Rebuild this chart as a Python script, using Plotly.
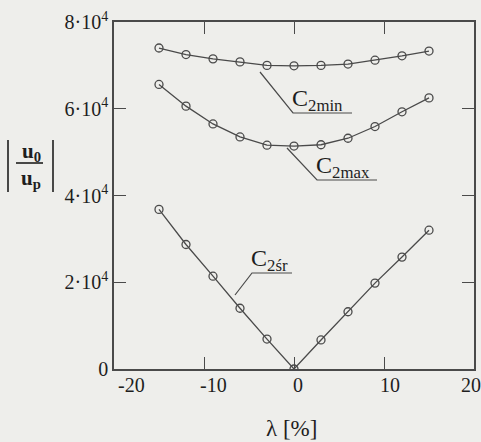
import plotly.graph_objects as go

# Slip λ [%] at which the ratio was evaluated
lam = [-15, -12, -9, -6, -3, 0, 3, 6, 9, 12, 15]

# |u0/up| for the three capacitor settings
c2_min = [74000, 72500, 71500, 70800, 70000, 69900, 70000, 70300, 71200, 72200, 73300]
c2_max = [65600, 60600, 56500, 53500, 51600, 51400, 51700, 53200, 55900, 59300, 62500]
c2_sr = [36800, 28700, 21400, 14000, 6900, 0, 6700, 13200, 19800, 25800, 32000]

x_ticks = [-20, -10, 0, 10, 20]
x_ticklabels = ["-20", "-10", "0", "10", "20"]
y_ticks = [0, 20000, 40000, 60000, 80000]
y_ticklabels = ["0", "2·10<sup>4</sup>", "4·10<sup>4</sup>", "6·10<sup>4</sup>", "8·10<sup>4</sup>"]

INK = "#4a4a4a"
TEXT = "#1e1e1e"
BG = "#eeeeeb"
SERIF = "Liberation Serif"

W, H = 481, 442
L, R, T, B = 114, 7, 22, 73
PW, PH = W - L - R, H - T - B


def px(x):
    return (x - L) / PW


def py(y):
    return (H - B - y) / PH


fig = go.Figure()
for name, vals in [("C2min", c2_min), ("C2max", c2_max), ("C2śr", c2_sr)]:
    fig.add_trace(go.Scatter(
        x=lam, y=vals, name=name, mode="lines+markers",
        line=dict(color=INK, width=1.3),
        marker=dict(symbol="circle-open", size=8, color=INK, line=dict(width=1.3)),
        showlegend=False,
    ))

shapes = []
annotations = []


def leader(points, label, tx, ty):
    path = "M " + " L ".join(f"{px(a)},{py(b)}" for a, b in points)
    shapes.append(dict(type="path", path=path, xref="paper", yref="paper",
                       line=dict(color=INK, width=1.2)))
    annotations.append(dict(x=px(tx), y=py(ty), xref="paper", yref="paper",
                            text=label, showarrow=False, xanchor="left", yanchor="middle",
                            font=dict(family=SERIF, size=24, color=TEXT)))


leader([(260, 72), (293, 113), (352, 113)], "C<sub>2min</sub>", 290, 100)
leader([(287, 148), (317, 180), (377, 180)], "C<sub>2max</sub>", 314, 167)
leader([(235, 295), (252, 273), (292, 273)], "C<sub>2śr</sub>", 249, 260)

# x tick labels, set slightly off their ticks as in hand-set figures
label_nudge = [17, 9, 4, 6, -3]
for v, lbl, dx in zip(x_ticks, x_ticklabels, label_nudge):
    annotations.append(dict(x=v, y=py(385), xref="x", yref="paper", text=lbl,
                            showarrow=False, xanchor="center", yanchor="middle", xshift=dx,
                            font=dict(family=SERIF, size=20, color=TEXT)))

# |u0 / up| axis label built from text and rules
annotations.append(dict(x=px(31), y=py(152), xref="paper", yref="paper", text="<b>u</b><sub><b>0</b></sub>",
                        showarrow=False, xanchor="center", yanchor="middle",
                        font=dict(family=SERIF, size=21, color=TEXT)))
annotations.append(dict(x=px(31), y=py(179), xref="paper", yref="paper", text="<b>u</b><sub><b>p</b></sub>",
                        showarrow=False, xanchor="center", yanchor="middle",
                        font=dict(family=SERIF, size=21, color=TEXT)))
for (x0, y0, x1, y1) in [(16, 163, 43, 163), (8, 140, 8, 192), (53, 140, 53, 192)]:
    shapes.append(dict(type="line", xref="paper", yref="paper",
                       x0=px(x0), y0=py(y0), x1=px(x1), y1=py(y1),
                       line=dict(color=TEXT, width=1.6)))

annotations.append(dict(x=px(291), y=py(428), xref="paper", yref="paper", text="λ [%]",
                        showarrow=False, xanchor="center", yanchor="middle",
                        font=dict(family=SERIF, size=23, color=TEXT)))

axis_common = dict(
    showline=True, linecolor=INK, linewidth=1.5, mirror="ticks",
    ticks="inside", ticklen=12, tickwidth=1.3, tickcolor=INK,
    showgrid=False, zeroline=False, automargin=False,
)

fig.update_layout(
    width=W, height=H,
    margin=dict(l=L, r=R, t=T, b=B),
    paper_bgcolor=BG, plot_bgcolor=BG,
    xaxis=dict(range=[-20, 20], tickvals=x_ticks, showticklabels=False, **axis_common),
    yaxis=dict(range=[0, 80000], tickvals=y_ticks, ticktext=y_ticklabels,
               tickfont=dict(family=SERIF, size=20, color=TEXT), **axis_common),
    shapes=shapes, annotations=annotations,
)

fig.write_html("out.html")
